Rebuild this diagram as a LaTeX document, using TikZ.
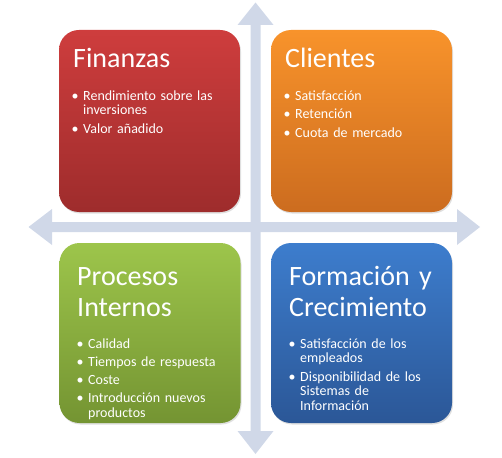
\documentclass[tikz,border=0pt]{standalone}
\usepackage{fontspec}
\setmainfont{Carlito}
\usepackage{tikz}
\usetikzlibrary{shadows}

\definecolor{axisfill}{RGB}{208,216,232}
\definecolor{finTop}{RGB}{206,61,61}
\definecolor{finBot}{RGB}{158,44,44}
\definecolor{cliTop}{RGB}{248,147,43}
\definecolor{cliBot}{RGB}{204,108,31}
\definecolor{proTop}{RGB}{157,197,75}
\definecolor{proBot}{RGB}{116,148,50}
\definecolor{forTop}{RGB}{61,125,205}
\definecolor{forBot}{RGB}{43,87,151}

\newcommand{\bul}{\makebox[11.5pt][l]{•}}
\newcommand{\ind}{\hspace*{11.5pt}}

\tikzset{
    quad/.style={rounded corners=20pt, minimum width=181pt, minimum height=182pt,
        inner sep=0pt, drop shadow={shadow xshift=1pt, shadow yshift=-1.5pt, opacity=.25}},
    head/.style={anchor=base west, inner sep=0pt, text=white, align=left,
        text width=175pt, font=\fontsize{28}{31}\selectfont},
    items/.style={anchor=base west, inner sep=0pt, text=white, align=left,
        text width=175pt, font=\fontsize{14}{14.3}\selectfont},
}

\begin{document}
\begin{tikzpicture} [ x=1pt, y=-1pt, ]
    \useasboundingbox (0,0) rectangle (502,457);

    % axes
    \fill[axisfill] (255.5,2.5) -- (273.5,25) -- (260.5,25) -- (260.5,431)
        -- (273.5,431) -- (255.5,454) -- (237.5,431) -- (250.5,431)
        -- (250.5,25) -- (237.5,25) -- cycle;
    \fill[axisfill] (28.5,227) -- (52,209) -- (52,222) -- (457,222)
        -- (457,209) -- (480,227) -- (457,245) -- (457,232)
        -- (52,232) -- (52,245) -- cycle;

    % boxes
    \node[quad, top color=finTop, bottom color=finBot] (fin) at (149.5,121) {};
    \node[quad, top color=cliTop, bottom color=cliBot] (cli) at (361.5,121) {};
    \node[quad, top color=proTop, bottom color=proBot, minimum height=180pt] (pro) at (150,333) {};
    \node[quad, top color=forTop, bottom color=forBot, minimum height=180pt] (for) at (361.5,333) {};

    % Finanzas
    \node[head] (finhead) at (73,67.5) {Finanzas};
    \node[items] (finlist) at (71.5,100.5) {\bul Rendimiento sobre las\\ \ind inversiones\\[4pt]
        \bul Valor añadido};

    % Clientes
    \node[head] (clihead) at (285,67.5) {Clientes};
    \node[items] (clilist) at (283.5,100.5) {\bul Satisfacción\\[4pt] \bul Retención\\[4pt]
        \bul Cuota de mercado};

    % Procesos Internos
    \node[head] (prohead) at (77,285) {Procesos\\Internos};
    \node[items] (prolist) at (76.5,348) {\bul Calidad\\[4pt] \bul Tiempos de respuesta\\[4pt]
        \bul Coste\\[4pt] \bul Introducción nuevos\\ \ind productos};

    % Formacion y Crecimiento
    \node[head] (forhead) at (289,285) {Formación y\\Crecimiento};
    \node[items] (forlist) at (288.5,348) {\bul Satisfacción de los\\ \ind empleados\\[5pt]
        \bul Disponibilidad de los\\ \ind Sistemas de\\ \ind Información};

\end{tikzpicture}
\end{document}
